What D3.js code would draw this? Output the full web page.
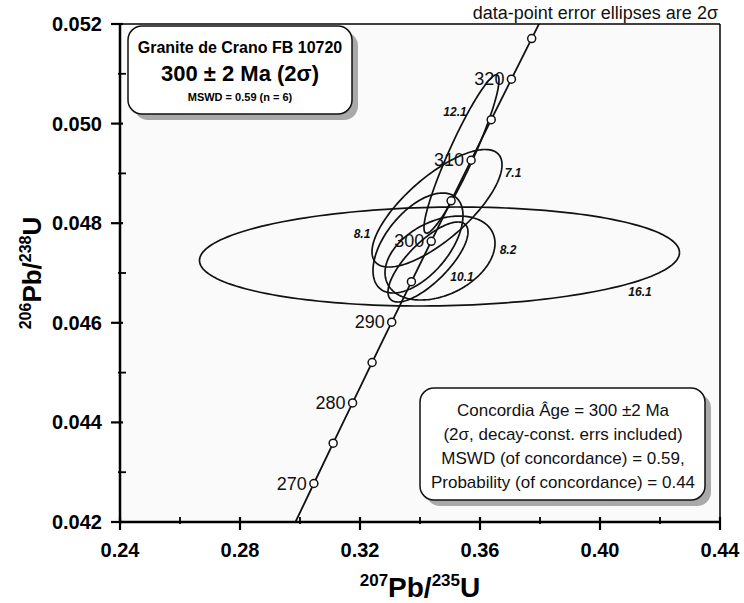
<!DOCTYPE html>
<html><head><meta charset="utf-8">
<script src="https://cdn.jsdelivr.net/npm/d3@7"></script>
<style>
html,body{margin:0;padding:0;background:#fff;}
svg text{font-family:"Liberation Sans",Arial,sans-serif;}
</style></head><body>
<svg id="chart" width="744" height="603"></svg>
<script>
// ---- data ----
const xTicks = [0.24, 0.28, 0.32, 0.36, 0.40, 0.44];
const xMinor = [0.26, 0.30, 0.34, 0.38, 0.42];
const yTicks = [0.042, 0.044, 0.046, 0.048, 0.050, 0.052];
const yMinor = [0.043, 0.045, 0.047, 0.049, 0.051];

// concordia curve points (Ma, 207Pb/235U, 206Pb/238U)
const concAge = [260, 265, 270, 275, 280, 285, 290, 295, 300, 305, 310, 315, 320, 325, 330];
const concX = [0.29183, 0.29821, 0.30462, 0.31106, 0.31753, 0.32403, 0.33057, 0.33714, 0.34374, 0.35037, 0.35704, 0.36374, 0.37047, 0.37723, 0.38403];
const concY = [0.041157, 0.041965, 0.042773, 0.043582, 0.044392, 0.045203, 0.046013, 0.046825, 0.047637, 0.048450, 0.049264, 0.050078, 0.050893, 0.051708, 0.052524];
const markerAges = [270, 275, 280, 285, 290, 295, 300, 305, 310, 315, 320, 325];
const labelAges = [270, 280, 290, 300, 310, 320];

// error ellipses (2 sigma)
const spotNames = ["7.1", "8.1", "8.2", "10.1", "12.1", "16.1"];
const spotX   = [0.34567, 0.33933, 0.34667, 0.34267, 0.35383, 0.34650];
const spotY   = [0.048300, 0.047602, 0.047301, 0.047221, 0.049390, 0.047331];
const spotSX  = [0.02167, 0.0150, 0.01833, 0.01333, 0.0125, 0.0800];
const spotSY  = [0.001180, 0.001004, 0.000843, 0.000803, 0.00159, 0.000994];
const spotRho = [0.74, 0.55, 0.35, 0.75, 0.93, 0.08];
const labelX  = [0.37100, 0.32067, 0.36933, 0.35400, 0.35167, 0.41333];
const labelY  = [0.049008, 0.047783, 0.047462, 0.046920, 0.050233, 0.046618];

const titleLines = ["Granite de Crano FB 10720", "300 ± 2 Ma (2σ)", "MSWD = 0.59 (n = 6)"];
const resultLines = ["Concordia Âge = 300 ±2 Ma", "(2σ, decay-const. errs included)", "MSWD (of concordance) = 0.59,", "Probability (of concordance) = 0.44"];

// ---- layout ----
const svg = d3.select("#chart");
const L = 120, R = 720, T = 24, B = 522;
const x = d3.scaleLinear().domain([0.24, 0.44]).range([L, R]);
const y = d3.scaleLinear().domain([0.042, 0.052]).range([B, T]);

svg.append("defs").append("clipPath").attr("id", "clip")
  .append("rect").attr("x", L).attr("y", T).attr("width", R - L).attr("height", B - T);

svg.append("rect").attr("x", L).attr("y", T).attr("width", R - L).attr("height", B - T)
  .attr("fill", "#fafafa");

const plot = svg.append("g").attr("clip-path", "url(#clip)");

// ellipses
const ellipseLine = d3.line().x(d => x(d[0])).y(d => y(d[1]));
spotNames.forEach((n, i) => {
  const pts = [];
  const k = Math.sqrt(1 - spotRho[i] * spotRho[i]);
  for (let j = 0; j <= 180; j++) {
    const t = j / 180 * 2 * Math.PI;
    pts.push([spotX[i] + spotSX[i] * Math.cos(t),
              spotY[i] + spotSY[i] * (spotRho[i] * Math.cos(t) + k * Math.sin(t))]);
  }
  plot.append("path").attr("d", ellipseLine(pts)).attr("fill", "none")
    .attr("stroke", "#111").attr("stroke-width", 1.7);
});

// concordia
const concPts = concAge.map((a, i) => [concX[i], concY[i]]);
plot.append("path").attr("d", d3.line().x(d => x(d[0])).y(d => y(d[1])).curve(d3.curveCatmullRom)(concPts))
  .attr("fill", "none").attr("stroke", "#111").attr("stroke-width", 1.8);

markerAges.forEach(a => {
  const i = concAge.indexOf(a);
  plot.append("circle").attr("cx", x(concX[i])).attr("cy", y(concY[i])).attr("r", 4)
    .attr("fill", "#fff").attr("stroke", "#111").attr("stroke-width", 1.5);
});
labelAges.forEach(a => {
  const i = concAge.indexOf(a);
  svg.append("text").attr("x", x(concX[i]) - 7).attr("y", y(concY[i]) + 6)
    .attr("text-anchor", "end").attr("font-size", 18).attr("fill", "#111").text(a);
});

// spot labels
spotNames.forEach((n, i) => {
  svg.append("text").attr("x", x(labelX[i])).attr("y", y(labelY[i]) + 4)
    .attr("text-anchor", "middle").attr("font-size", 12).attr("font-weight", "bold")
    .attr("font-style", "italic").attr("fill", "#111").text(n);
});

// frame
svg.append("line").attr("x1", L).attr("x2", R).attr("y1", T).attr("y2", T).attr("stroke", "#000").attr("stroke-width", 1.5);
svg.append("line").attr("x1", R).attr("x2", R).attr("y1", T).attr("y2", B).attr("stroke", "#000").attr("stroke-width", 1.5);

// axes
const xAxis = svg.append("g");
xAxis.append("line").attr("x1", L - 1).attr("x2", R + 1).attr("y1", B).attr("y2", B).attr("stroke", "#000").attr("stroke-width", 2.5);
xTicks.forEach(v => {
  xAxis.append("line").attr("x1", x(v)).attr("x2", x(v)).attr("y1", B - 5).attr("y2", B + 8).attr("stroke", "#000").attr("stroke-width", 2.2);
  xAxis.append("text").attr("x", x(v)).attr("y", B + 35).attr("text-anchor", "middle")
    .attr("font-size", 20).attr("font-weight", "bold").text(v.toFixed(2));
});
xMinor.forEach(v => {
  xAxis.append("line").attr("x1", x(v)).attr("x2", x(v)).attr("y1", B - 5).attr("y2", B + 2).attr("stroke", "#000").attr("stroke-width", 1.8);
});
const yAxis = svg.append("g");
yAxis.append("line").attr("x1", L).attr("x2", L).attr("y1", T - 1).attr("y2", B + 1).attr("stroke", "#000").attr("stroke-width", 2.5);
yTicks.forEach(v => {
  yAxis.append("line").attr("x1", L - 9).attr("x2", L + 3).attr("y1", y(v)).attr("y2", y(v)).attr("stroke", "#000").attr("stroke-width", 2.2);
  yAxis.append("text").attr("x", L - 18).attr("y", y(v) + 7).attr("text-anchor", "end")
    .attr("font-size", 20).attr("font-weight", "bold").text(v.toFixed(3));
});
yMinor.forEach(v => {
  yAxis.append("line").attr("x1", L - 2).attr("x2", L + 6).attr("y1", y(v)).attr("y2", y(v)).attr("stroke", "#000").attr("stroke-width", 1.8);
});

// axis titles
const xt = svg.append("text").attr("x", (L + R) / 2).attr("y", 597).attr("text-anchor", "middle")
  .attr("font-weight", "bold").attr("font-size", 28);
xt.append("tspan").attr("font-size", 17).attr("dy", -11).text("207");
xt.append("tspan").attr("dy", 11).text("Pb/");
xt.append("tspan").attr("font-size", 17).attr("dy", -11).text("235");
xt.append("tspan").attr("dy", 11).text("U");

const yt = svg.append("text").attr("transform", `translate(41,${(T + B) / 2}) rotate(-90)`)
  .attr("text-anchor", "middle").attr("font-weight", "bold").attr("font-size", 26);
yt.append("tspan").attr("font-size", 16).attr("dy", -10).text("206");
yt.append("tspan").attr("dy", 10).text("Pb/");
yt.append("tspan").attr("font-size", 16).attr("dy", -10).text("238");
yt.append("tspan").attr("dy", 10).text("U");

// note
svg.append("text").attr("x", 718).attr("y", 19).attr("text-anchor", "end")
  .attr("font-size", 18).attr("fill", "#111").text("data-point error ellipses are 2σ");

// boxes
function box(x0, y0, w, h) {
  svg.append("rect").attr("x", x0 + 6).attr("y", y0 + 6).attr("width", w).attr("height", h)
    .attr("rx", 14).attr("fill", "#a9a9a9");
  svg.append("rect").attr("x", x0).attr("y", y0).attr("width", w).attr("height", h)
    .attr("rx", 14).attr("fill", "#fff").attr("stroke", "#111").attr("stroke-width", 1.5);
}
box(128, 26, 224, 88);
const tcx = 240;
svg.append("text").attr("x", tcx).attr("y", 53).attr("text-anchor", "middle").attr("font-weight", "bold").attr("font-size", 16).text(titleLines[0]);
svg.append("text").attr("x", tcx).attr("y", 81).attr("text-anchor", "middle").attr("font-weight", "bold").attr("font-size", 22).text(titleLines[1]);
svg.append("text").attr("x", tcx).attr("y", 101).attr("text-anchor", "middle").attr("font-weight", "bold").attr("font-size", 11).text(titleLines[2]);

box(420, 388, 285, 112);
resultLines.forEach((s, i) => {
  svg.append("text").attr("x", 563).attr("y", 416 + i * 24).attr("text-anchor", "middle")
    .attr("font-size", 17).attr("fill", "#111").text(s);
});
</script>
</body></html>
